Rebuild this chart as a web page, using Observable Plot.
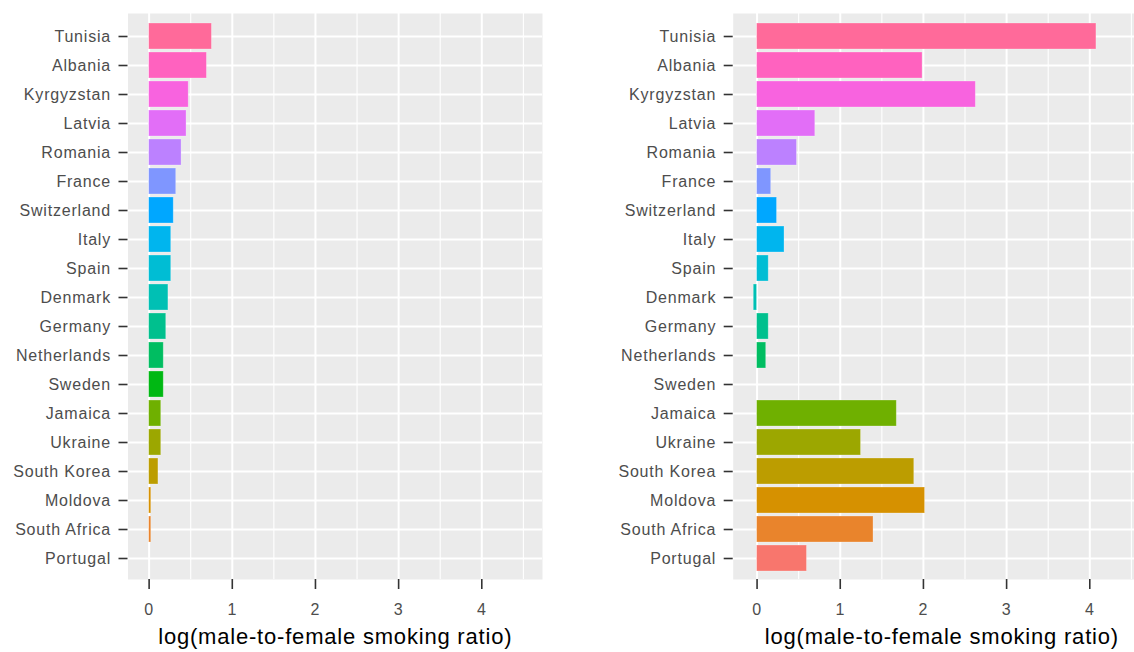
<!DOCTYPE html>
<html>
<head>
<meta charset="utf-8">
<script src="https://cdn.jsdelivr.net/npm/d3@7"></script>
<script src="https://cdn.jsdelivr.net/npm/@observablehq/plot@0.6"></script>
<style>
  html, body { margin: 0; padding: 0; background: white; }
  body { width: 1134px; height: 652px; overflow: hidden; position: relative; }
  .panel { position: absolute; top: 0; }
  .panel svg { letter-spacing: 0.8px; max-width: none !important; display: block; }
  .panel g[aria-label="x-axis label"] text { font-size: 22px; fill: #000; letter-spacing: 0.8px; }
</style>
</head>
<body>
<div id="left" class="panel" style="left:0px; width:560px"></div>
<div id="right" class="panel" style="left:600px; width:550px"></div>
<script>
// ---- data ----
const countries = ["Tunisia","Albania","Kyrgyzstan","Latvia","Romania","France","Switzerland","Italy","Spain","Denmark","Germany","Netherlands","Sweden","Jamaica","Ukraine","South Korea","Moldova","South Africa","Portugal"];
const leftValues = [0.755,0.695,0.476,0.45,0.39,0.326,0.296,0.266,0.266,0.232,0.206,0.176,0.176,0.146,0.146,0.112,0.026,0.026,0];
const rightValues = [4.08,1.99,2.63,0.70,0.48,0.17,0.24,0.33,0.14,-0.04,0.14,0.11,0,1.68,1.25,1.89,2.02,1.40,0.60];
const xTicks = [0,1,2,3,4];
const xMinorTicks = [0.5,1.5,2.5,3.5,4.5];
const axisTitle = "log(male-to-female smoking ratio)";

// ggplot2 default hue palette (hcl in polar LUV, c=100, l=65)
function hclR(h, c, l) {
  const XN = 95.047, YN = 100.0, ZN = 108.883;
  const hr = h * Math.PI / 180;
  const U = c * Math.cos(hr), V = c * Math.sin(hr);
  const Y = YN * (l > 7.999592 ? Math.pow((l + 16) / 116, 3) : l / 903.3);
  const t = XN + YN + ZN, x = XN / t, y = YN / t;
  const uN = 2 * x / (6 * y - x + 1.5), vN = 4.5 * y / (6 * y - x + 1.5);
  const u = U / (13 * l) + uN, v = V / (13 * l) + vN;
  const X = 9.0 * Y * u / (4 * v);
  const Z = -X / 3 - 5 * Y + 3 * Y / v;
  const lin = [
    ( 3.240479 * X - 1.537150 * Y - 0.498535 * Z) / YN,
    (-0.969256 * X + 1.875992 * Y + 0.041556 * Z) / YN,
    ( 0.055648 * X - 0.204043 * Y + 1.057311 * Z) / YN
  ];
  const g = lin.map(s => s > 0.00304 ? 1.055 * Math.pow(s, 1 / 2.4) - 0.055 : 12.92 * s)
               .map(s => Math.round(255 * Math.max(0, Math.min(1, s))));
  return d3.rgb(g[0], g[1], g[2]).formatHex();
}
function huePal(n) {
  const out = [];
  for (let i = 0; i < n; i++) out.push(hclR(15 + i * 360 / n, 100, 65));
  return out;
}
const palette = huePal(countries.length); // level 1 = bottom (Portugal)

const rows = countries.map((c, i) => ({
  country: c,
  left: leftValues[i],
  right: rightValues[i],
  color: palette[countries.length - 1 - i]
}));

function panel(key, domain, width, marginLeft, marginRight) {
  return Plot.plot({
    width, height: 652,
    marginTop: 13, marginBottom: 73, marginLeft, marginRight,
    style: {fontFamily: "'Liberation Sans', Arial, sans-serif", fontSize: "16px", background: "white", overflow: "visible"},
    x: {domain},
    y: {domain: countries, range: [15, 579.6], paddingInner: 0.1, paddingOuter: 0.15},
    color: {type: "identity"},
    marks: [
      Plot.frame({fill: "#EBEBEB"}),
      Plot.gridX(xMinorTicks, {stroke: "white", strokeOpacity: 1, strokeWidth: 1.1}),
      Plot.gridX(xTicks, {stroke: "white", strokeOpacity: 1, strokeWidth: 2}),
      Plot.gridY(countries, {stroke: "white", strokeOpacity: 1, strokeWidth: 2}),
      Plot.barX(rows, {x: d => d[key], y: "country", fill: "color", stroke: "white", strokeOpacity: 0.35, strokeWidth: 0.8}),
      Plot.axisX(xTicks, {tickSize: 10, tickPadding: 14, stroke: "#333333", strokeWidth: 1.6, fill: "#4D4D4D",
                 label: axisTitle, labelAnchor: "center", labelArrow: "none", labelOffset: 64}),
      Plot.axisY(countries, {tickSize: 9, tickPadding: 8, stroke: "#333333", strokeWidth: 1.6, fill: "#4D4D4D", label: null})
    ]
  });
}

document.getElementById("left").appendChild(panel("left", [-0.254, 4.73], 560, 127.5, 18));
document.getElementById("right").appendChild(panel("right", [-0.287, 4.73], 550, 132.7, 0));
</script>
</body>
</html>
